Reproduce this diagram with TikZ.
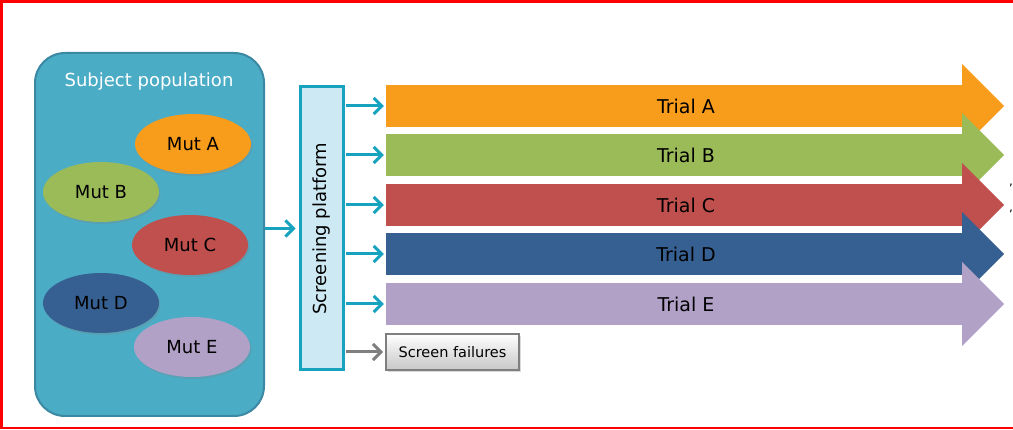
\documentclass[tikz,border=0pt]{standalone}
\usepackage{fontspec}
\setmainfont{DejaVu Sans}
\usetikzlibrary{shapes.geometric,shadows,arrows.meta}

\definecolor{mutA}{HTML}{F89C1C}
\definecolor{mutB}{HTML}{9BBB59}
\definecolor{mutC}{HTML}{C0504D}
\definecolor{mutD}{HTML}{376092}
\definecolor{mutE}{HTML}{B2A1C7}
\definecolor{popfill}{HTML}{4BACC6}
\definecolor{popline}{HTML}{3A88A2}
\definecolor{teal}{HTML}{17A2C0}
\definecolor{screenfill}{HTML}{CDE9F3}
\definecolor{failline}{HTML}{7F7F7F}

\tikzset{
  mut/.style={ellipse, minimum width=116pt, minimum height=60pt, inner sep=0pt,
    font=\fontsize{18}{21}\selectfont,
    drop shadow={shadow xshift=1.5pt, shadow yshift=-2pt, opacity=0.25}},
  trialbody/.style={rectangle, minimum width=577pt, minimum height=42pt, inner sep=0pt},
  triallabel/.style={font=\fontsize{19}{22}\selectfont, inner sep=0pt},
  conn/.style={teal, line width=3pt, -{Straight Barb[length=8pt, width=16pt, line width=3pt]}},
  failconn/.style={failline, line width=3pt, -{Straight Barb[length=8pt, width=16pt, line width=3pt]}},
}

\begin{document}
\begin{tikzpicture}[x=1pt, y=-1pt]
\useasboundingbox (0,0) rectangle (1013,430);

% outer frame
\draw[red, line width=2.5pt] (1013,1.5) -- (1.5,1.5) -- (1.5,428) -- (1013,428);

% subject population
\node[rectangle, rounded corners=30pt, fill=popfill, draw=popline, line width=2pt,
      minimum width=229pt, minimum height=363pt, inner sep=0pt] (pop) at (149.5,234.5) {};
\node[white, font=\fontsize{18}{21}\selectfont] (poptitle) at (149,82) {Subject population};

\node[mut, fill=mutA] (ma) at (193,144) {Mut A};
\node[mut, fill=mutB] (mb) at (101,192) {Mut B};
\node[mut, fill=mutC] (mc) at (190,245) {Mut C};
\node[mut, fill=mutD] (md) at (101,303) {Mut D};
\node[mut, fill=mutE] (me) at (192,347) {Mut E};

% screening platform
\node[rectangle, fill=screenfill, draw=teal, line width=3pt,
      minimum width=43pt, minimum height=283pt, inner sep=0pt] (sp) at (321.5,228.5) {};
\node[rotate=90, font=\fontsize{18}{21}\selectfont] (sptext) at (sp.center) {Screening platform};

\draw[conn] (pop.east |- sp.center) -- ([xshift=-3pt]sp.west);

% trial arrows (drawn top to bottom so each overlaps the previous head)
\foreach \n/\c/\y in {A/mutA/106, B/mutB/155, C/mutC/205, D/mutD/254, E/mutE/304}{
  \node[trialbody, fill=\c] (t\n) at (674.5,\y) {};
  \fill[\c] ([xshift=-1pt]t\n.east) ++(0,-42) -- ++(42,42) -- ++(-42,42) -- cycle;
}
\foreach \n in {A,B,C,D,E}{
  \node[triallabel] (l\n) at ([xshift=11.5pt]t\n.center) {Trial \n};
  \draw[conn] ([xshift=1pt]sp.east |- t\n.west) -- ([xshift=-2pt]t\n.west);
}

% screen failures
\node[rectangle, draw=failline, line width=2pt, top color=white, bottom color=black!22,
      minimum width=133pt, minimum height=36pt, inner sep=0pt,
      font=\fontsize{14.5}{17}\selectfont,
      drop shadow={shadow xshift=1.5pt, shadow yshift=-2pt, opacity=0.3}] (sf) at (452.5,352) {Screen failures};
\draw[failconn] ([xshift=1pt]sp.east |- sf.west) -- ([xshift=-2pt]sf.west);

% clipped characters at the right edge
\node[font=\fontsize{12}{14}\selectfont, inner sep=0pt] (c1) at (1011,185) {,};
\node[font=\fontsize{12}{14}\selectfont, inner sep=0pt] (c2) at (1011,211) {,};
\end{tikzpicture}
\end{document}
